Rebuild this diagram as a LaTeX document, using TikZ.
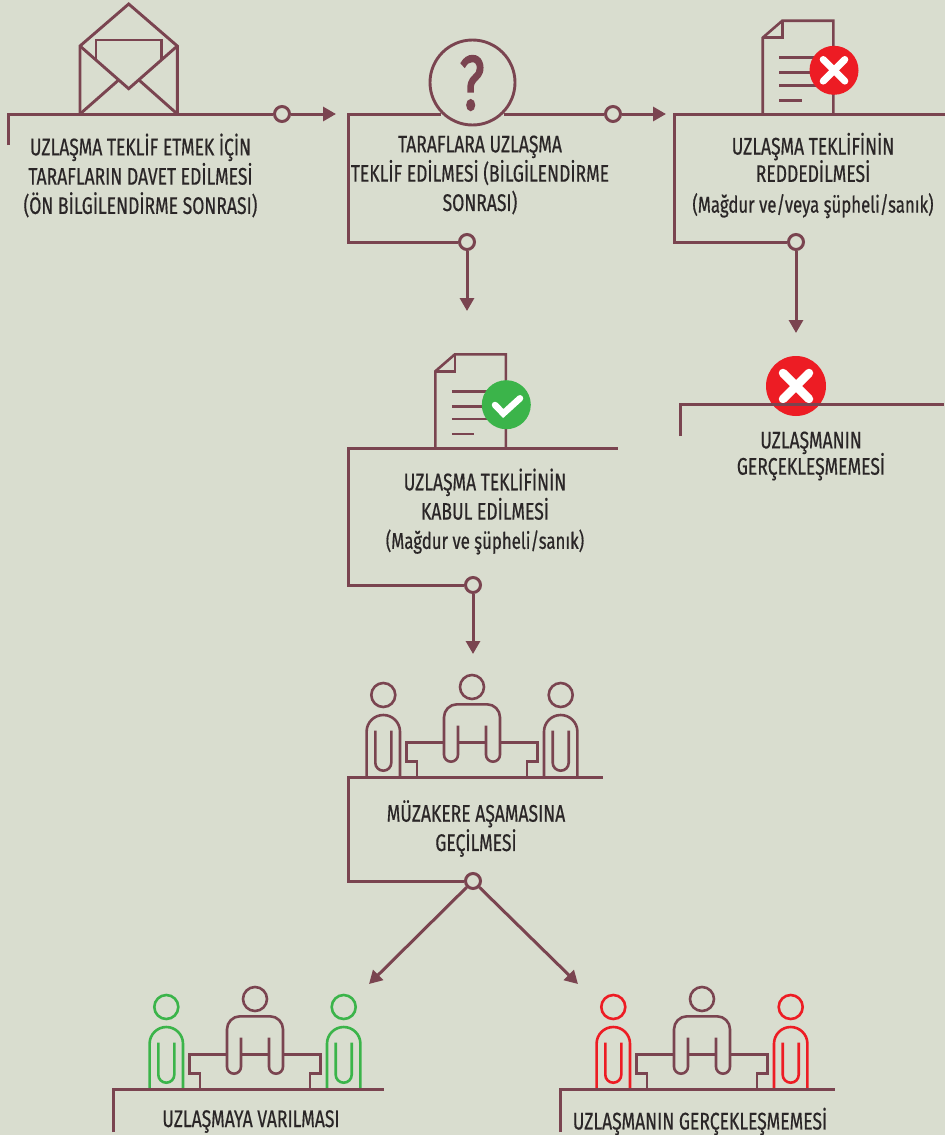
\documentclass[tikz,border=0pt]{standalone}
\usepackage{fontspec}
\setmainfont[FakeStretch=0.73,FakeBold=0.5]{Fira Sans}
\newfontfamily\qfont[FakeStretch=0.7,FakeBold=2]{Fira Sans}
\usetikzlibrary{arrows.meta}
\definecolor{bgc}{HTML}{D9DDCF}
\definecolor{mar}{HTML}{7A4450}
\definecolor{ink}{HTML}{2A2627}
\definecolor{okg}{HTML}{3BB44A}
\definecolor{nor}{HTML}{ED1C24}
\tikzset{
  flow/.style={draw=mar,line width=3pt,line cap=butt,line join=miter},
  ptr/.style={flow,-{Triangle[length=13pt,width=14pt]}},
  knot/.style={circle,draw=mar,line width=3pt,fill=bgc,minimum size=15pt,inner sep=0pt},
  icon/.style={draw=mar,line width=2.6pt,line join=miter},
  label/.style={text=ink,align=center,inner sep=0pt,font=\fontsize{24}{29.3}\selectfont},
}
\newcommand{\smallline}{\fontsize{23}{29.3}\selectfont}
\newcommand{\people}[3]{%
\begin{scope}[shift={(#1,-#2)}]
  \draw[icon,#3] (-88.7,82) circle (12);
  \draw[icon,#3] (88.7,82) circle (12);
  \draw[icon] (0,90) circle (12);
  \foreach \s in {-88.7,88.7}{
    \draw[icon,#3] (\s-16.7,0) -- (\s-16.7,45.3) arc[start angle=180,end angle=0,radius=16.7] -- (\s+16.7,0);
    \draw[icon,#3] (\s-8,46.3) -- (\s-8,14.3) arc[start angle=180,end angle=360,radius=8] -- (\s+8,46.3);
  }
  \draw[icon] (-55,0) -- (-55,15.3) -- (-65.3,15.3) -- (-65.3,34.7) -- (-28,34.7);
  \draw[icon] (55,0) -- (55,15.3) -- (65.3,15.3) -- (65.3,34.7) -- (28,34.7);
  \draw[icon] (-14,34.7) -- (14,34.7);
  \draw[icon] (-14,51.3) -- (-14,22.3) arc[start angle=0,end angle=-180,radius=7] -- (-28,59.7)
    arc[start angle=180,end angle=90,radius=13] -- (15,72.7)
    arc[start angle=90,end angle=0,radius=13] -- (28,22.3)
    arc[start angle=0,end angle=-180,radius=7] -- (14,51.3);
\end{scope}}
\newcommand{\docicon}[3]{%
\begin{scope}[shift={(#1,-#2)}]
  \draw[icon] (0,-#3) -- (0,-17) -- (19.6,0) -- (70.6,0) -- (70.6,-#3);
  \draw[icon] (0,-17) -- (19.6,-17) -- (19.6,0);
  \draw[icon] (16.5,-37) -- (60,-37);
  \draw[icon] (16.5,-52) -- (60,-52);
  \draw[icon] (16.5,-64.5) -- (60,-64.5);
  \draw[icon] (16.5,-79.5) -- (39,-79.5);
\end{scope}}
\begin{document}
\begin{tikzpicture}[x=1pt,y=1pt]
\useasboundingbox (0,0) rectangle (945,-1135);
\fill[bgc] (0,0) rectangle (945,-1135);

% envelope
\draw[icon,line width=2.9pt] (80,-114) -- (80,-46) -- (128.7,-4) -- (177.3,-46) -- (177.3,-114);
\draw[icon,line width=2.9pt] (80,-46) -- (128.7,-88.7) -- (177.3,-46);
\draw[icon,line width=2.9pt] (80,-114) -- (118.3,-80.3);
\draw[icon,line width=2.9pt] (177.3,-114) -- (139.3,-80.3);
\draw[icon,line width=2.9pt] (96,-59.5) -- (96,-40) -- (161.3,-40) -- (161.3,-60);

% question mark
\node[circle,draw=mar,line width=2.9pt,minimum size=85pt,inner sep=0pt] (q) at (472.5,-82.5) {};
\node[text=mar,inner sep=0pt,font=\qfont\fontsize{77}{77}\selectfont] (qm) at (472,-83) {?};

% documents
\docicon{762.7}{20.7}{93.3}
\node[circle,fill=nor,minimum size=49pt,inner sep=0pt] (xa) at (834,-70.3) {};
\draw[white,line width=7pt,line cap=round] (823.2,-59.5) -- (844.8,-81.1);
\draw[white,line width=7pt,line cap=round] (823.2,-81.1) -- (844.8,-59.5);

\docicon{435.3}{354.3}{93.7}
\node[circle,fill=okg,minimum size=49pt,inner sep=0pt] (ok) at (506.3,-404.7) {};
\draw[white,line width=6.5pt,line cap=round,line join=miter] (495,-405) -- (503.3,-413.5) -- (520,-398.3);

% final failure icon
\node[circle,fill=nor,minimum size=60pt,inner sep=0pt] (xb) at (796,-386) {};
\draw[white,line width=8.5pt,line cap=round] (783,-373) -- (809,-399);
\draw[white,line width=8.5pt,line cap=round] (783,-399) -- (809,-373);

% meeting groups
\people{472}{777}{}
\people{255}{1089}{draw=okg}
\people{702}{1089}{draw=nor}

% connection knots
\node[knot] (k1) at (282,-114) {};
\node[knot] (k2) at (613,-114) {};
\node[knot] (k3) at (467,-242) {};
\node[knot] (k4) at (796,-242) {};
\node[knot] (k5) at (473,-585) {};
\node[knot] (k6) at (473,-881) {};

% free ends
\coordinate (a0) at (8.5,-145); \coordinate (a1) at (8.5,-114); \coordinate (a2) at (336,-114);
\coordinate (b1) at (348,-242); \coordinate (b2) at (348,-114); \coordinate (b3) at (666,-114);
\coordinate (c1) at (674,-242); \coordinate (c2) at (674,-114); \coordinate (c3) at (945,-114);
\coordinate (d1) at (467,-311);
\coordinate (e1) at (796,-333);
\coordinate (f0) at (680,-436); \coordinate (f1) at (680,-404); \coordinate (f2) at (944,-404);
\coordinate (g1) at (348,-585); \coordinate (g2) at (348,-448); \coordinate (g3) at (618,-448);
\coordinate (h1) at (473,-654);
\coordinate (i1) at (348,-881); \coordinate (i2) at (348,-777); \coordinate (i3) at (603,-777);
\coordinate (j1) at (369,-984); \coordinate (j2) at (578,-984);
\coordinate (m0) at (113,-1132); \coordinate (m1) at (113,-1089); \coordinate (m2) at (384,-1089);
\coordinate (n0) at (560,-1132); \coordinate (n1) at (560,-1089); \coordinate (n2) at (835,-1089);

\draw[flow] (a0) -- (a1) -- (k1);
\draw[ptr] (k1) -- (a2);
\draw[flow] (k3) -- (b1) -- (b2) -- (q.225.7 |- b2);
\draw[flow] (q.-45.7 |- b2) -- (k2);
\draw[ptr] (k2) -- (b3);
\draw[ptr] (k3) -- (d1);
\draw[flow] (k4) -- (c1) -- (c2) -- (c3);
\draw[ptr] (k4) -- (e1);
\draw[flow] (f0) -- (f1) -- (f2);
\draw[flow] (k5) -- (g1) -- (g2) -- (g3);
\draw[ptr] (k5) -- (h1);
\draw[flow] (k6) -- (i1) -- (i2) -- (i3);
\draw[ptr] (k6) -- (j1);
\draw[ptr] (k6) -- (j2);
\draw[flow] (m0) -- (m1) -- (m2);
\draw[flow] (n0) -- (n1) -- (n2);

% labels
\node[label] (t1) at (140.5,-175.5) {UZLAŞMA TEKLİF ETMEK İÇİN\\TARAFLARIN DAVET EDİLMESİ\\(ÖN BİLGİLENDİRME SONRASI)};
\node[label] (t2) at (480,-175) {TARAFLARA UZLAŞMA\\TEKLİF EDİLMESİ (BİLGİLENDİRME\\SONRASI)};
\node[label] (t3) at (813,-175.5) {UZLAŞMA TEKLİFİNİN\\[-2pt]REDDEDİLMESİ\\[1.5pt]{\smallline(Mağdur ve/veya şüpheli/sanık)}};
\node[label] (t4) at (811,-456) {UZLAŞMANIN\\[-3pt]GERÇEKLEŞMEMESİ};
\node[label] (t5) at (485,-511.5) {UZLAŞMA TEKLİFİNİN\\KABUL EDİLMESİ\\{\smallline(Mağdur ve şüpheli/sanık)}};
\node[label] (t6) at (476,-828.5) {MÜZAKERE AŞAMASINA\\GEÇİLMESİ};
\node[label] (t7) at (251,-1121.5) {UZLAŞMAYA VARILMASI};
\node[label] (t8) at (700,-1121.5) {UZLAŞMANIN GERÇEKLEŞMEMESİ};
\end{tikzpicture}
\end{document}
